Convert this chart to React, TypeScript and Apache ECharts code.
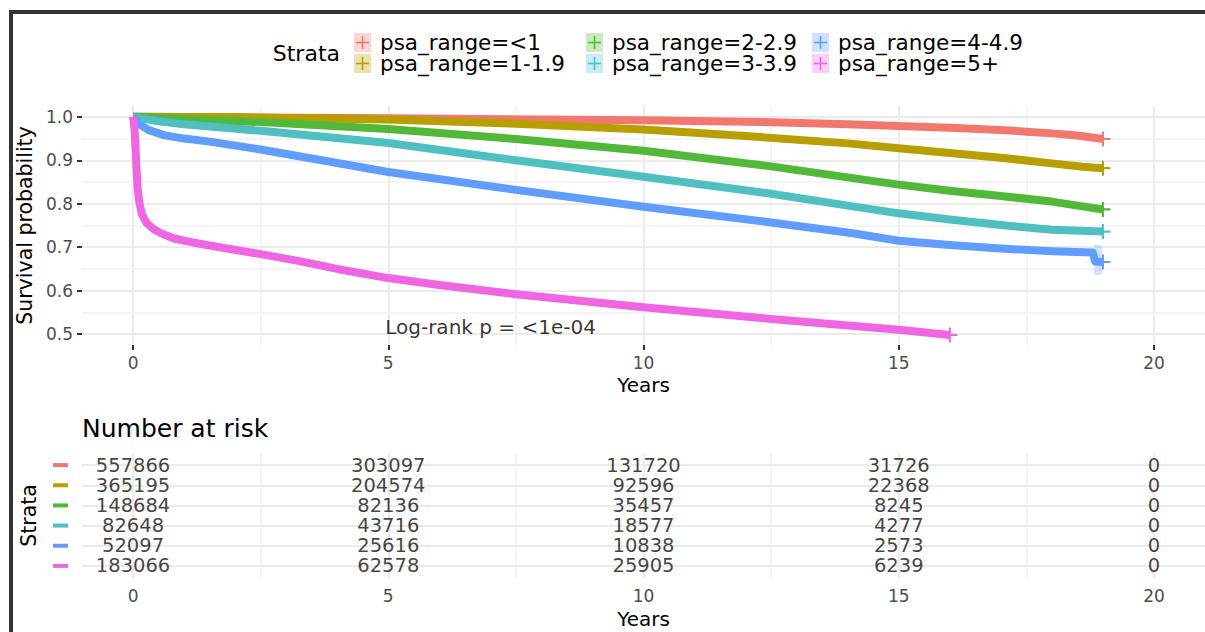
import React, { useEffect, useRef } from "react";
import * as echarts from "echarts";

// Strata and their colours
const strata = [
  "psa_range=<1",
  "psa_range=1-1.9",
  "psa_range=2-2.9",
  "psa_range=3-3.9",
  "psa_range=4-4.9",
  "psa_range=5+",
];
const colors = ["#F2786F", "#B79F00", "#52B83A", "#4FBFC1", "#619CFF", "#EE66E2"];

// Kaplan-Meier survival estimates (years, survival probability)
const tLt1 = [0, 2, 5, 8, 10, 12, 14, 15, 16, 17, 17.5, 18, 18.5, 19];
const sLt1 = [1.0, 0.999, 0.997, 0.994, 0.992, 0.989, 0.983, 0.979, 0.975, 0.970, 0.966, 0.962, 0.957, 0.949];

const t1to2 = [0, 2, 5, 7.5, 10, 12, 14, 15, 16, 17, 18, 18.6, 19];
const s1to2 = [1.0, 0.999, 0.994, 0.984, 0.971, 0.956, 0.939, 0.928, 0.917, 0.906, 0.893, 0.885, 0.882];

const t2to3 = [0, 1, 2.5, 5, 7.5, 10, 12.5, 14.1, 15, 16, 17, 18, 18.6, 19];
const s2to3 = [1.0, 0.995, 0.988, 0.972, 0.949, 0.922, 0.886, 0.859, 0.844, 0.830, 0.818, 0.805, 0.794, 0.787];

const t3to4 = [0, 0.5, 1, 2.5, 5, 7.5, 10, 12.5, 14.1, 15, 16, 17, 18, 19];
const s3to4 = [1.0, 0.99, 0.983, 0.968, 0.940, 0.900, 0.862, 0.823, 0.794, 0.778, 0.764, 0.751, 0.740, 0.736];

const t4to5 = [0, 0.1, 0.3, 0.6, 1, 1.5, 2.5, 5, 7.5, 10, 12.5, 14.1, 15, 16, 17, 18, 18.8, 18.85, 19];
const s4to5 = [1.0, 0.985, 0.97, 0.958, 0.950, 0.943, 0.925, 0.873, 0.832, 0.793, 0.757, 0.732, 0.715, 0.705, 0.697, 0.691, 0.688, 0.667, 0.666];

const t5plus = [0, 0.03, 0.06, 0.09, 0.12, 0.17, 0.27, 0.4, 0.53, 0.8, 1.17, 1.84, 2.5, 3.26, 4, 5, 6, 7.5, 10, 12.5, 15, 16];
const s5plus = [1.0, 0.97, 0.9, 0.835, 0.805, 0.777, 0.755, 0.742, 0.733, 0.72, 0.711, 0.697, 0.684, 0.668, 0.650, 0.629, 0.613, 0.592, 0.562, 0.535, 0.51, 0.498];

const curveTimes = [tLt1, t1to2, t2to3, t3to4, t4to5, t5plus];
const curveSurv = [sLt1, s1to2, s2to3, s3to4, s4to5, s5plus];

// Confidence band at the end of the 4-4.9 curve
const bandT = [18.83, 18.98];
const bandS = [0.636, 0.705];

// Log-rank annotation
const pvalText = "Log-rank p = <1e-04";
const pvalCoord = [4.94, 0.516];

// Number at risk table
const riskTimes = [0, 5, 10, 15, 20];
const riskLt1 = [557866, 303097, 131720, 31726, 0];
const risk1to2 = [365195, 204574, 92596, 22368, 0];
const risk2to3 = [148684, 82136, 35457, 8245, 0];
const risk3to4 = [82648, 43716, 18577, 4277, 0];
const risk4to5 = [52097, 25616, 10838, 2573, 0];
const risk5plus = [183066, 62578, 25905, 6239, 0];
const riskRows = [riskLt1, risk1to2, risk2to3, risk3to4, risk4to5, risk5plus];

// Axis ticks
const xMajor = [0, 5, 10, 15, 20];
const xMinor = [2.5, 7.5, 12.5, 17.5];
const yMajor = [0.5, 0.6, 0.7, 0.8, 0.9, 1.0];
const yMinor = [0.55, 0.65, 0.75, 0.85, 0.95];

const FONT = "DejaVu Sans";
const GRID_MAJOR = "#EBEBEB";
const GRID_MINOR = "#F0F0F0";
// censoring mark drawn at the end of each curve
const PLUS = "path://M0,4.3H10V5.7H0Z M4.3,0H5.7V10H4.3Z";

function hexAlpha(hex: string, a: number) {
  const r = parseInt(hex.slice(1, 3), 16);
  const g = parseInt(hex.slice(3, 5), 16);
  const b = parseInt(hex.slice(5, 7), 16);
  return `rgba(${r},${g},${b},${a})`;
}

function gridLines(xs: number[], ys: number[], xsMinor: number[], ysMinor: number[]) {
  const data: any[] = [];
  xs.forEach((v) => data.push({ xAxis: v, lineStyle: { color: GRID_MAJOR, width: 2, type: "solid" } }));
  xsMinor.forEach((v) => data.push({ xAxis: v, lineStyle: { color: GRID_MINOR, width: 1.5, type: "solid" } }));
  ys.forEach((v) => data.push({ yAxis: v, lineStyle: { color: GRID_MAJOR, width: 2, type: "solid" } }));
  ysMinor.forEach((v) => data.push({ yAxis: v, lineStyle: { color: GRID_MINOR, width: 1.5, type: "solid" } }));
  return data;
}

function buildLegend() {
  const textX = [380, 612, 838];
  const children: any[] = [
    {
      type: "text",
      x: 340,
      y: 53,
      style: { text: "Strata", font: `22px '${FONT}'`, fill: "#000", align: "right", verticalAlign: "middle" },
    },
  ];
  strata.forEach((name, i) => {
    const col = Math.floor(i / 2);
    const row = i % 2;
    const bx = textX[col] - 26;
    const by = 33 + row * 21;
    const cx = bx + 8.5;
    const cy = by + 9.5;
    children.push({ type: "rect", shape: { x: bx, y: by, width: 17, height: 19 }, style: { fill: hexAlpha(colors[i], 0.3) } });
    children.push({ type: "line", shape: { x1: bx + 2, y1: cy, x2: bx + 15, y2: cy }, style: { stroke: colors[i], lineWidth: 1.6 } });
    children.push({ type: "line", shape: { x1: cx, y1: cy - 6.5, x2: cx, y2: cy + 6.5 }, style: { stroke: colors[i], lineWidth: 1.6 } });
    children.push({
      type: "text",
      x: textX[col],
      y: cy,
      style: { text: name, font: `21.5px '${FONT}'`, fill: "#000", verticalAlign: "middle" },
    });
  });
  return children;
}

export default function App() {
  const ref = useRef<HTMLDivElement>(null);

  useEffect(() => {
    if (!ref.current) return;
    const chart = echarts.init(ref.current, undefined, { renderer: "svg" });

    const axisLabelStyle = { color: "#4D4D4D", fontSize: 17, fontFamily: FONT };
    const tickStyle = { color: "#333333", width: 2 };
    const hiddenLine = { show: true, onZero: false, lineStyle: { color: "rgba(0,0,0,0)" } };

    const curveSeries = strata.map((name, i) => {
      const n = curveTimes[i].length;
      return {
        name,
        type: "line",
        xAxisIndex: 0,
        yAxisIndex: 0,
        data: curveTimes[i].map((t, j) =>
          j === n - 1
            ? { value: [t, curveSurv[i][j]], symbol: PLUS, symbolSize: 15, symbolKeepAspect: true }
            : { value: [t, curveSurv[i][j]] }
        ),
        showSymbol: true,
        symbol: "none",
        itemStyle: { color: colors[i] },
        lineStyle: { color: colors[i], width: 8, join: "round" },
        z: 3,
        ...(i === 4
          ? {
              markArea: {
                silent: true,
                z: 2,
                itemStyle: { color: hexAlpha(colors[4], 0.28) },
                data: [[{ xAxis: bandT[0], yAxis: bandS[0] }, { xAxis: bandT[1], yAxis: bandS[1] }]],
              },
            }
          : {}),
      };
    });

    const riskData: any[] = [];
    riskRows.forEach((row, r) => {
      row.forEach((n, k) => riskData.push([riskTimes[k], r, n]));
    });

    const rich: any = {};
    colors.forEach((c, i) => {
      rich["s" + i] = { width: 15, height: 4, backgroundColor: c, fontSize: 1, lineHeight: 4 };
    });

    const option: any = {
      animation: false,
      backgroundColor: "#fff",
      textStyle: { fontFamily: FONT },
      grid: [
        { left: 82, top: 106, width: 1126, height: 239 },
        { left: 82, top: 453, width: 1126, height: 125 },
      ],
      xAxis: [
        {
          type: "value",
          gridIndex: 0,
          min: -1,
          max: 21,
          axisLine: hiddenLine,
          splitLine: { show: false },
          axisTick: { show: true, customValues: xMajor, length: 5, lineStyle: tickStyle },
          axisLabel: { ...axisLabelStyle, customValues: xMajor, margin: 9 },
          name: "Years",
          nameLocation: "middle",
          nameGap: 30,
          nameTextStyle: { color: "#000", fontSize: 20, fontFamily: FONT },
        },
        {
          type: "value",
          gridIndex: 1,
          min: -1,
          max: 21,
          axisLine: { show: false, onZero: false },
          splitLine: { show: false },
          axisTick: { show: false },
          axisLabel: { ...axisLabelStyle, customValues: xMajor, margin: 9 },
          name: "Years",
          nameLocation: "middle",
          nameGap: 31,
          nameTextStyle: { color: "#000", fontSize: 20, fontFamily: FONT },
        },
      ],
      yAxis: [
        {
          type: "value",
          gridIndex: 0,
          min: 0.475,
          max: 1.025,
          axisLine: hiddenLine,
          splitLine: { show: false },
          axisTick: { show: true, customValues: yMajor, length: 5, lineStyle: tickStyle },
          axisLabel: { ...axisLabelStyle, customValues: yMajor, margin: 9, formatter: (v: number) => v.toFixed(1) },
          name: "Survival probability",
          nameLocation: "middle",
          nameRotate: 90,
          nameGap: 38,
          nameTextStyle: { color: "#000", fontSize: 20.5, fontFamily: FONT },
        },
        {
          type: "value",
          gridIndex: 1,
          min: -0.6,
          max: 5.6,
          inverse: true,
          axisLine: { show: false, onZero: false },
          splitLine: { show: false },
          axisTick: { show: false },
          axisLabel: {
            customValues: [0, 1, 2, 3, 4, 5],
            margin: 14,
            formatter: (v: number) => `{s${Math.round(v)}|\u00a0}`,
            rich,
          },
          name: "Strata",
          nameLocation: "middle",
          nameRotate: 90,
          nameGap: 43,
          nameTextStyle: { color: "#000", fontSize: 20.5, fontFamily: FONT },
        },
      ],
      series: [
        {
          type: "line",
          xAxisIndex: 0,
          yAxisIndex: 0,
          data: [],
          z: 0,
          silent: true,
          markLine: {
            silent: true,
            z: 0,
            symbol: ["none", "none"],
            label: { show: false },
            data: gridLines(xMajor, yMajor, xMinor, yMinor),
          },
        },
        ...curveSeries,
        {
          type: "scatter",
          xAxisIndex: 0,
          yAxisIndex: 0,
          data: [pvalCoord],
          symbolSize: 0,
          silent: true,
          z: 4,
          label: {
            show: true,
            position: "right",
            distance: 0,
            formatter: () => pvalText,
            color: "#000",
            fontSize: 20,
            fontFamily: FONT,
          },
        },
        {
          type: "line",
          xAxisIndex: 1,
          yAxisIndex: 1,
          data: [],
          z: 0,
          silent: true,
          markLine: {
            silent: true,
            z: 0,
            symbol: ["none", "none"],
            label: { show: false },
            data: gridLines(xMajor, [0, 1, 2, 3, 4, 5], xMinor, []),
          },
        },
        {
          type: "scatter",
          xAxisIndex: 1,
          yAxisIndex: 1,
          data: riskData,
          symbolSize: 1,
          itemStyle: { color: "transparent" },
          silent: true,
          z: 4,
          label: {
            show: true,
            position: "inside",
            formatter: (p: any) => String(p.value[2]),
            color: "#111",
            fontSize: 19.5,
            fontFamily: FONT,
          },
        },
      ],
      graphic: [
        ...buildLegend(),
        {
          type: "text",
          x: 82,
          y: 428,
          style: { text: "Number at risk", font: `25px '${FONT}'`, fill: "#000", verticalAlign: "middle" },
        },
        { type: "rect", shape: { x: 9, y: 10, width: 1196, height: 4 }, style: { fill: "#333" } },
        { type: "rect", shape: { x: 9, y: 10, width: 4, height: 622 }, style: { fill: "#333" } },
      ],
    };

    chart.setOption(option);
    return () => chart.dispose();
  }, []);

  return (
    <div
      ref={ref}
      style={{ position: "absolute", left: 0, top: 0, width: 1205, height: 632, background: "#fff" }}
    />
  );
}
